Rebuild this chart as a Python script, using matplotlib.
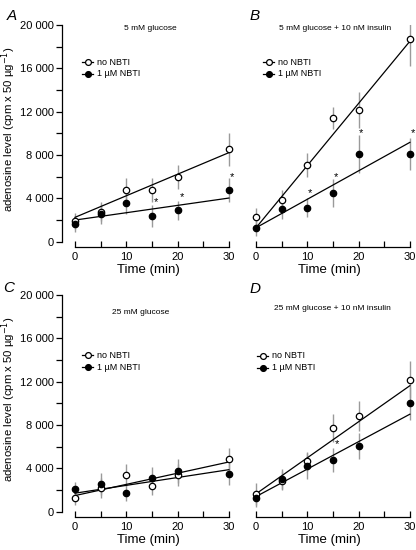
import numpy as np
import matplotlib
matplotlib.use("Agg")
import matplotlib.pyplot as plt
from matplotlib.ticker import MultipleLocator, FuncFormatter

plt.rcParams['font.family'] = ['Liberation Sans', 'DejaVu Sans']

time = [0, 5, 10, 15, 20, 30]
fit_t = [0, 30]

# panel A: 5 mM glucose
a_open = [1940, 2770, 4800, 4770, 6000, 8530]
a_open_err = [750, 850, 1100, 1100, 1100, 1500]
a_nbti = [1630, 2560, 3540, 2400, 2900, 4740]
a_nbti_err = [700, 900, 1000, 1000, 900, 1100]
a_fit_open = [2250, 8220]
a_fit_nbti = [2000, 4030]
a_star_x = [15.8, 20.9, 30.6]
a_star_y = [3700, 4100, 6000]

# panel B: 5 mM glucose + insulin
b_open = [2250, 3850, 7110, 11440, 12150, 18700]
b_open_err = [900, 900, 1100, 1000, 1700, 2450]
b_nbti = [1290, 2990, 3140, 4470, 8090, 8090]
b_nbti_err = [800, 850, 900, 1300, 1750, 1500]
b_fit_open = [1290, 18500]
b_fit_nbti = [1290, 9170]
b_star_x = [10.6, 15.6, 20.5, 30.6]
b_star_y = [4500, 6000, 10000, 10000]

# panel C: 25 mM glucose
c_open = [1300, 2180, 3410, 2330, 3410, 4870]
c_open_err = [700, 900, 1000, 800, 1000, 1000]
c_nbti = [2080, 2550, 1770, 3100, 3720, 3500]
c_nbti_err = [700, 1000, 800, 1000, 1100, 1000]
c_fit_open = [1490, 4590]
c_fit_nbti = [1710, 3880]
c_star_x = []
c_star_y = []

# panel D: 25 mM glucose + insulin
d_open = [1650, 2880, 4650, 7750, 8840, 12190]
d_open_err = [1000, 900, 900, 1300, 1400, 1700]
d_nbti = [1240, 3010, 4190, 4810, 6050, 9990]
d_nbti_err = [800, 900, 1200, 1100, 1200, 1500]
d_fit_open = [1650, 11630]
d_fit_nbti = [1400, 9000]
d_star_x = [15.8]
d_star_y = [6200]

letters = ['A', 'B', 'C', 'D']
titles = ['5 mM glucose', '5 mM glucose + 10 nM insulin',
          '25 mM glucose', '25 mM glucose + 10 nM insulin']
yticks = [0, 4000, 8000, 12000, 16000, 20000]

panels = [
    (a_open, a_open_err, a_nbti, a_nbti_err, a_fit_open, a_fit_nbti, a_star_x, a_star_y),
    (b_open, b_open_err, b_nbti, b_nbti_err, b_fit_open, b_fit_nbti, b_star_x, b_star_y),
    (c_open, c_open_err, c_nbti, c_nbti_err, c_fit_open, c_fit_nbti, c_star_x, c_star_y),
    (d_open, d_open_err, d_nbti, d_nbti_err, d_fit_open, d_fit_nbti, d_star_x, d_star_y),
]

W, H = 416, 550
fig = plt.figure(figsize=(W / 100, H / 100), dpi=100)

# axes boxes in pixels: left, top, right, bottom
boxes = [(62.2, 25, 234, 246.6), (243.2, 25, 415, 246.6),
         (62.2, 295, 234, 516.6), (243.2, 295, 415, 516.6)]
legend_pos = [(82, 62), (263, 62), (82, 355), (257, 356)]
title_pos = [(150, 29), (335, 29), (141, 312), (332, 309)]
letter_pos = [(7, 20), (250, 20), (3, 292), (250, 293)]

fmt = FuncFormatter(lambda v, p: f"{int(v):,}".replace(",", " "))

for i, (op, ope, nb, nbe, fo, fn, sx, sy) in enumerate(panels):
    l, t, r, b = boxes[i]
    ax = fig.add_axes([l / W, 1 - b / H, (r - l) / W, (b - t) / H])
    ax.set_xlim(-2.5, 31)
    ax.set_ylim(-450, 20000)

    ax.plot(fit_t, fo, color='black', lw=0.9, zorder=2)
    ax.plot(fit_t, fn, color='black', lw=0.9, zorder=2)
    ax.errorbar(time, op, yerr=ope, fmt='none', ecolor='#9a9a9a', elinewidth=1.0, zorder=1)
    ax.errorbar(time, nb, yerr=nbe, fmt='none', ecolor='#9a9a9a', elinewidth=1.0, zorder=1)
    ax.plot(time, op, 'o', ms=4.6, mfc='white', mec='black', mew=0.9, zorder=3)
    ax.plot(time, nb, 'o', ms=4.6, mfc='black', mec='black', mew=0.9, zorder=3)
    for x, y in zip(sx, sy):
        ax.text(x, y, '*', fontsize=8, ha='center', va='center')

    for s in ['top', 'right']:
        ax.spines[s].set_visible(False)
    ax.spines['bottom'].set_bounds(0, 30)
    ax.spines['bottom'].set_linewidth(0.9)
    ax.xaxis.set_major_locator(MultipleLocator(10))
    ax.xaxis.set_minor_locator(MultipleLocator(5))
    ax.tick_params(axis='x', which='both', direction='in', length=4, width=0.9, labelsize=8, pad=4)
    ax.set_xlabel('Time (min)', fontsize=9.5, labelpad=1)

    if i % 2 == 0:
        ax.spines['left'].set_bounds(0, 20000)
        ax.spines['left'].set_linewidth(0.9)
        ax.set_yticks(yticks)
        ax.yaxis.set_minor_locator(MultipleLocator(2000))
        ax.yaxis.set_major_formatter(fmt)
        ax.tick_params(axis='y', which='both', direction='out', length=4, width=0.9, labelsize=8, pad=2)
        ax.set_ylabel('adenosine level (cpm x 50 µg$^{-1}$)', fontsize=8.2, va='center')
        ax.yaxis.set_label_coords(-0.31, 0.53)
    else:
        ax.spines['left'].set_visible(False)
        ax.set_yticks([])

    # titles, legends, letters in pixel coords
    tx, ty = title_pos[i]
    fig.text(tx / W, 1 - ty / H, titles[i], fontsize=6, ha='center', va='center')
    lx, ly = legend_pos[i]
    for k, (lab, fc) in enumerate([('no NBTI', 'white'), ('1 µM NBTI', 'black')]):
        yy = 1 - (ly + 12 * k) / H
        fig.add_artist(plt.Line2D([lx / W, (lx + 11) / W], [yy, yy], color='black', lw=0.9,
                                  marker=None, transform=fig.transFigure))
        fig.add_artist(plt.Line2D([(lx + 5.5) / W], [yy], ls='none', marker='o', ms=4.2,
                                  mfc=fc, mec='black', mew=0.9, transform=fig.transFigure))
        fig.text((lx + 15) / W, yy, lab, fontsize=6.5, ha='left', va='center')
    px, py = letter_pos[i]
    fig.text(px / W, 1 - py / H, letters[i], fontsize=11, style='italic', ha='left', va='baseline')

fig.savefig('out.png', dpi=100)
